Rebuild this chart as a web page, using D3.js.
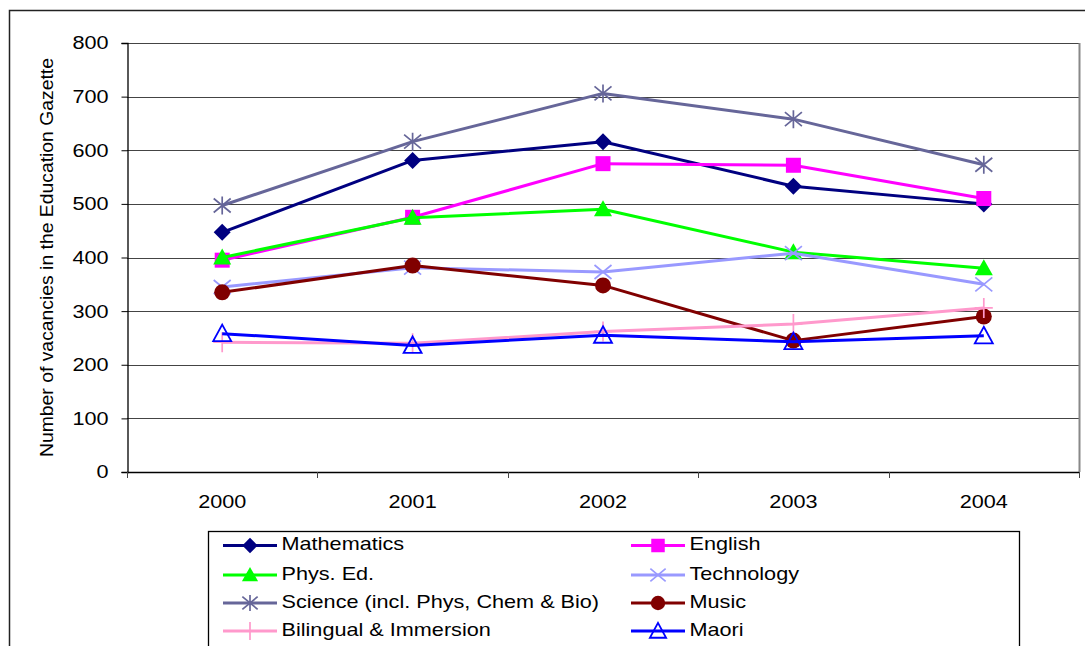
<!DOCTYPE html>
<html><head><meta charset="utf-8">
<script src="https://cdn.jsdelivr.net/npm/d3@7"></script>
<style>
body{margin:0;background:#fff;}
svg{display:block;font-family:"Liberation Sans",Arial,sans-serif;}
</style></head><body>
<svg id="c" width="1085" height="646"></svg>
<script>
const years = ["2000","2001","2002","2003","2004"];
const yTicks = [0,100,200,300,400,500,600,700,800];
const seriesNames = ["Mathematics","English","Phys. Ed.","Technology","Science (incl. Phys, Chem & Bio)","Music","Bilingual & Immersion","Maori"];
const mathematics = [447,581,616,533,500];
const english = [395,475,575,572,510];
const physEd = [400,474,490,410,380];
const technology = [345,381,373,408,350];
const science = [497,616,706,658,573];
const music = [335,385,348,245,290];
const bilingual = [242,240,262,276,306];
const maori = [258,236,255,243,254];
const seriesValues = [mathematics,english,physEd,technology,science,music,bilingual,maori];
const colors = ["#000080","#FF00FF","#00FF00","#9999FF","#666699","#800000","#FF99CC","#0000FF"];
const markers = ["diamond","square","triangle","x","asterisk","circle","plus","opentri"];

const svg = d3.select("#c");
const L=127,R=1079,T=43,B=472;
const x = d3.scaleBand().domain(years).range([L,R]);
const y = d3.scaleLinear().domain([0,800]).range([B,T]);
const FONT = "Liberation Sans, Arial, sans-serif";

// outer border
svg.append("rect").attr("x",9.5).attr("y",10.5).attr("width",1090).attr("height",650)
  .attr("fill","none").attr("stroke","#222").attr("stroke-width",1.5);

// gridlines
svg.append("g").selectAll("line").data(yTicks.filter(d=>d>0)).join("line")
  .attr("x1",L).attr("x2",R).attr("y1",d=>Math.round(y(d))+0.5).attr("y2",d=>Math.round(y(d))+0.5)
  .attr("stroke","#444").attr("stroke-width",1.2);
// right plot edge
svg.append("line").attr("x1",R+0.5).attr("x2",R+0.5).attr("y1",T).attr("y2",B)
  .attr("stroke","#888").attr("stroke-width",2);

function widen(sel,f){
  sel.each(function(){
    const w = this.getComputedTextLength();
    d3.select(this).attr("textLength",w*f).attr("lengthAdjust","spacingAndGlyphs");
  });
}

// y axis
const ya = svg.append("g").attr("transform",`translate(${L+0.5},0)`)
  .call(d3.axisLeft(y).tickValues(yTicks).tickSize(6).tickPadding(13));
ya.select(".domain").attr("stroke","#000").attr("stroke-width",1.3);
ya.selectAll(".tick line").attr("stroke","#000");
ya.selectAll("text").attr("font-size",18.5).attr("fill","#000").attr("font-family",FONT);
widen(ya.selectAll("text"),1.17);

// x axis
const xa = svg.append("g").attr("transform",`translate(0,${B+0.5})`)
  .call(d3.axisBottom(x).tickSize(0).tickPadding(22));
xa.select(".domain").attr("stroke","#000").attr("stroke-width",1.3).attr("d",`M${L},0H${R}`);
xa.selectAll("text").attr("font-size",18.5).attr("fill","#000").attr("font-family",FONT);
widen(xa.selectAll("text"),1.17);
// category separators
const xb = years.map(d=>x(d)).concat([R]);
svg.append("g").selectAll("line").data(xb).join("line")
  .attr("x1",d=>Math.round(d)+0.5).attr("x2",d=>Math.round(d)+0.5)
  .attr("y1",B).attr("y2",B+6).attr("stroke","#444").attr("stroke-width",1);

// y label
svg.append("text").attr("transform",`translate(53,${257.5}) rotate(-90)`)
  .attr("text-anchor","middle").attr("font-size",19).attr("fill","#000")
  .attr("textLength",399).attr("lengthAdjust","spacingAndGlyphs")
  .text("Number of vacancies in the Education Gazette");

function drawMarker(g,type,cx,cy,color,s){
  s = s||1;
  switch(type){
    case "diamond":
      g.append("path").attr("d",`M${cx},${cy-8.5*s}L${cx+8.5*s},${cy}L${cx},${cy+8.5*s}L${cx-8.5*s},${cy}Z`).attr("fill",color);break;
    case "square":
      g.append("rect").attr("x",cx-7.5*s).attr("y",cy-7.5*s).attr("width",15*s).attr("height",15*s).attr("fill",color);break;
    case "triangle":
      g.append("path").attr("d",`M${cx},${cy-9*s}L${cx+9*s},${cy+7*s}L${cx-9*s},${cy+7*s}Z`).attr("fill",color);break;
    case "opentri":
      g.append("path").attr("d",`M${cx},${cy-9*s}L${cx+9*s},${cy+7.5*s}L${cx-9*s},${cy+7.5*s}Z`).attr("fill","none").attr("stroke",color).attr("stroke-width",1.8);break;
    case "circle":
      g.append("circle").attr("cx",cx).attr("cy",cy).attr("r",8*s).attr("fill",color);break;
    case "x":
      g.append("path").attr("d",`M${cx-8.5*s},${cy-7*s}L${cx+8.5*s},${cy+7*s}M${cx-8.5*s},${cy+7*s}L${cx+8.5*s},${cy-7*s}`).attr("stroke",color).attr("stroke-width",1.7).attr("fill","none");break;
    case "asterisk":
      g.append("path").attr("d",`M${cx-8.5*s},${cy-7*s}L${cx+8.5*s},${cy+7*s}M${cx-8.5*s},${cy+7*s}L${cx+8.5*s},${cy-7*s}M${cx},${cy-9*s}L${cx},${cy+9*s}`).attr("stroke",color).attr("stroke-width",1.7).attr("fill","none");break;
    case "plus":
      g.append("path").attr("d",`M${cx},${cy-10*s}L${cx},${cy+10*s}M${cx-9*s},${cy}L${cx+9*s},${cy}`).attr("stroke",color).attr("stroke-width",1.7).attr("fill","none");break;
  }
}

const line = d3.line().x((d,i)=>x(years[i])+x.bandwidth()/2).y(d=>y(d));
seriesValues.forEach((vals,si)=>{
  const g = svg.append("g");
  g.append("path").datum(vals).attr("d",line).attr("fill","none")
    .attr("stroke",colors[si]).attr("stroke-width",3).attr("stroke-linejoin","round");
  vals.forEach((v,i)=>drawMarker(g,markers[si],x(years[i])+x.bandwidth()/2,y(v),colors[si]));
});

// legend
const lg = svg.append("g");
lg.append("rect").attr("x",208.5).attr("y",531.5).attr("width",811).attr("height",130)
  .attr("fill","#fff").attr("stroke","#000").attr("stroke-width",1.3);
const rowY = [545.5,575,603,631];
seriesNames.forEach((n,i)=>{
  const col = i%2, row = Math.floor(i/2);
  const x0 = col===0?223:631, yy = rowY[row];
  lg.append("line").attr("x1",x0).attr("x2",x0+54).attr("y1",yy).attr("y2",yy)
    .attr("stroke",colors[i]).attr("stroke-width",3);
  drawMarker(lg,markers[i],x0+27,yy,colors[i],0.9);
  const t = lg.append("text").attr("x",x0+58.5).attr("y",yy+4.8).attr("font-size",18.5)
    .attr("fill","#000").attr("font-family",FONT).text(n);
  widen(t,1.17);
});
</script>
</body></html>
